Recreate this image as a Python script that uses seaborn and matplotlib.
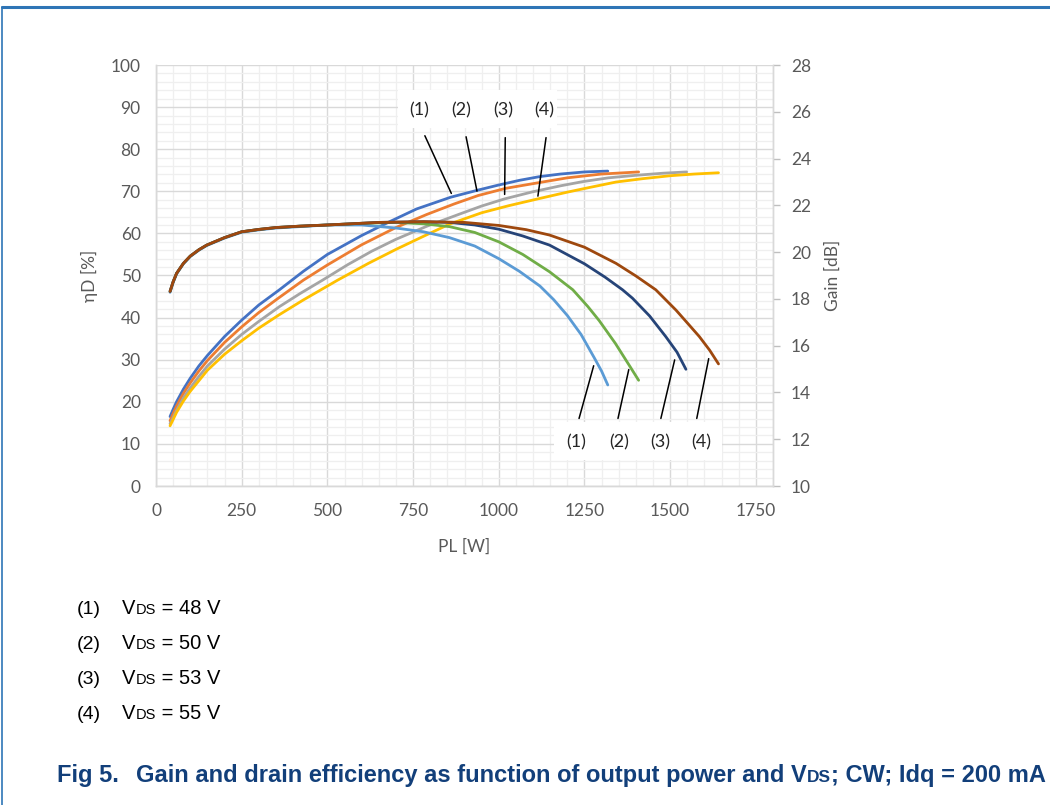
import numpy as np
import pandas as pd
import matplotlib
matplotlib.use("Agg")
import matplotlib.pyplot as plt
import seaborn as sns
from matplotlib.lines import Line2D
from matplotlib.patches import Rectangle
from matplotlib.ticker import MultipleLocator

# drain efficiency curves: PL [W] -> eta_D [%]
eff_pl_1 = [41, 50, 60, 80, 100, 125, 150, 200, 250, 300, 360, 430, 500, 600, 682, 760, 860, 940, 1000,
            1060, 1120, 1180, 1250, 1318]
eff_val_1 = [16.5, 18.2, 20.0, 23.0, 25.6, 28.5, 31.0, 35.5, 39.4, 43.0, 46.6, 51.0, 55.0, 59.5, 62.8, 65.8,
             68.6, 70.3, 71.5, 72.6, 73.5, 74.1, 74.6, 74.8]
eff_pl_2 = [41, 50, 60, 80, 100, 125, 150, 200, 250, 300, 360, 430, 500, 600, 700, 790, 870, 940, 1020,
            1120, 1200, 1300, 1408]
eff_val_2 = [15.5, 17.2, 19.0, 22.0, 24.5, 27.3, 29.8, 34.1, 37.8, 41.2, 44.8, 48.9, 52.5, 57.3, 61.4, 64.5,
             67.0, 69.0, 70.7, 72.1, 73.2, 74.1, 74.6]
eff_pl_3 = [41, 50, 60, 80, 100, 125, 150, 200, 250, 300, 360, 420, 486, 560, 630, 700, 790, 886, 950,
            1017, 1100, 1180, 1245, 1320, 1400, 1480, 1548]
eff_val_3 = [14.8, 16.3, 18.0, 20.9, 23.3, 26.0, 28.5, 32.5, 36.0, 39.1, 42.6, 45.7, 48.9, 52.6, 55.8, 58.6,
             61.7, 64.6, 66.5, 68.2, 69.9, 71.3, 72.3, 73.2, 73.8, 74.3, 74.6]
eff_pl_4 = [41, 50, 60, 80, 100, 125, 150, 200, 250, 300, 360, 430, 530, 620, 700, 780, 856, 950, 1030,
            1114, 1200, 1270, 1342, 1420, 1500, 1570, 1641]
eff_val_4 = [14.3, 15.8, 17.5, 20.2, 22.5, 25.0, 27.5, 31.3, 34.5, 37.5, 40.7, 44.2, 48.9, 52.9, 56.2, 59.3,
             62.2, 64.9, 66.6, 68.2, 69.8, 71.0, 72.2, 73.0, 73.7, 74.1, 74.4]

# gain curves: PL [W] -> Gain [dB]
gain_pl_1 = [41, 50, 60, 80, 100, 125, 148, 200, 250, 300, 350, 420, 500, 600, 700, 780, 856, 930, 1000,
             1060, 1120, 1160, 1200, 1240, 1279, 1300, 1318]
gain_val_1 = [18.28, 18.70, 19.07, 19.50, 19.81, 20.08, 20.28, 20.60, 20.85, 20.95, 21.03, 21.09, 21.16,
              21.16, 21.03, 20.87, 20.62, 20.26, 19.72, 19.18, 18.55, 17.97, 17.29, 16.48, 15.47, 14.91, 14.32]
gain_pl_2 = [41, 50, 60, 80, 100, 125, 148, 200, 250, 300, 350, 420, 500, 600, 700, 780, 856, 930, 1000,
             1070, 1148, 1216, 1260, 1293, 1340, 1381, 1408]
gain_val_2 = [18.32, 18.73, 19.09, 19.52, 19.83, 20.10, 20.30, 20.62, 20.87, 20.97, 21.05, 21.11, 21.16,
              21.23, 21.27, 21.21, 21.09, 20.84, 20.44, 19.90, 19.16, 18.39, 17.67, 17.07, 16.10, 15.15, 14.52]
gain_pl_3 = [41, 50, 60, 80, 100, 125, 148, 200, 250, 300, 350, 420, 500, 650, 780, 856, 930, 1000, 1070,
             1148, 1250, 1310, 1361, 1390, 1440, 1487, 1520, 1546]
gain_val_3 = [18.32, 18.73, 19.09, 19.52, 19.83, 20.10, 20.30, 20.62, 20.87, 20.97, 21.05, 21.11, 21.16,
              21.27, 21.30, 21.27, 21.16, 20.98, 20.69, 20.30, 19.50, 18.93, 18.39, 18.03, 17.27, 16.39,
              15.72, 14.99]
gain_pl_4 = [41, 50, 60, 80, 100, 125, 148, 200, 250, 300, 350, 420, 500, 650, 780, 900, 1000, 1080, 1148,
             1250, 1342, 1400, 1458, 1517, 1555, 1585, 1615, 1641]
gain_val_4 = [18.32, 18.73, 19.09, 19.52, 19.83, 20.10, 20.30, 20.62, 20.87, 20.97, 21.05, 21.11, 21.16,
              21.27, 21.30, 21.27, 21.14, 20.96, 20.73, 20.21, 19.52, 18.98, 18.39, 17.52, 16.89, 16.39,
              15.81, 15.22]

curve_labels = ["(1)", "(2)", "(3)", "(4)"]
vds_values = ["48", "50", "53", "55"]

eff_colors = ["#4472C4", "#ED7D31", "#A5A5A5", "#FFC000"]
gain_colors = ["#5B9BD5", "#70AD47", "#264478", "#9E480E"]

sns.set_style("white")
plt.rcParams["font.family"] = ["Lato", "DejaVu Sans"]
grey = "#595959"

fig = plt.figure(figsize=(10.5, 8.05), dpi=100)
ax = fig.add_axes([156 / 1050, 1 - 486 / 805, 617 / 1050, 421 / 805])
ax2 = ax.twinx()

eff_sets = [(eff_pl_1, eff_val_1), (eff_pl_2, eff_val_2), (eff_pl_3, eff_val_3), (eff_pl_4, eff_val_4)]
gain_sets = [(gain_pl_1, gain_val_1), (gain_pl_2, gain_val_2), (gain_pl_3, gain_val_3), (gain_pl_4, gain_val_4)]

for (px, py), c in zip(eff_sets, eff_colors):
    sns.lineplot(x=px, y=py, ax=ax, color=c, lw=2.0, sort=False, zorder=3)
for (px, py), c in zip(gain_sets, gain_colors):
    sns.lineplot(x=px, y=py, ax=ax2, color=c, lw=2.0, sort=False, zorder=3)

ax.set_xlim(0, 1800)
ax.set_ylim(0, 100)
ax2.set_ylim(10, 28)
ax.xaxis.set_major_locator(MultipleLocator(250))
ax.xaxis.set_minor_locator(MultipleLocator(50))
ax.yaxis.set_major_locator(MultipleLocator(10))
ax.yaxis.set_minor_locator(MultipleLocator(2))
ax2.yaxis.set_major_locator(MultipleLocator(2))
ax.set_xticks([0, 250, 500, 750, 1000, 1250, 1500, 1750])

ax.grid(which="major", color="#D9D9D9", lw=1.0)
ax.grid(which="minor", color="#EFEFEF", lw=0.9)
ax.set_axisbelow(True)

for a in (ax, ax2):
    for s in a.spines.values():
        s.set_color("#D9D9D9")
        s.set_linewidth(1.0)
ax.spines["top"].set_visible(False)
ax2.spines["top"].set_visible(False)

ax.tick_params(axis="both", which="both", length=0, labelsize=12.5, labelcolor=grey)
ax.tick_params(axis="y", pad=11)
ax.tick_params(axis="x", pad=12)
ax2.tick_params(axis="y", which="major", length=5, width=1, color="#BFBFBF", labelsize=12.5,
                labelcolor=grey, pad=8)

ax.set_xlabel("PL [W]", fontsize=12.5, color=grey, labelpad=14)
ax.set_ylabel("ηD [%]", fontsize=12.5, color=grey, labelpad=9)
ax2.set_ylabel("Gain [dB]", fontsize=12.5, color=grey, labelpad=10)

# label boxes and leader lines (efficiency axis coordinates)
ax.add_patch(Rectangle((705, 85.0), 466, 9.1, facecolor="white", edgecolor="none", zorder=2))
ax.add_patch(Rectangle((1162, 6.2), 489, 9.0, facecolor="white", edgecolor="none", zorder=2))

top_text_x = [769, 891, 1014, 1133]
top_line = [((781, 83.8), (865, 68.9)), ((903, 83.6), (938, 69.4)),
            ((1019, 83.4), (1017, 68.6)), ((1139, 83.4), (1113, 68.2))]
bot_text_x = [1226, 1352, 1471, 1590]
bot_line = [((1232, 15.4), (1279, 29.2)), ((1346, 15.4), (1381, 28.3)),
            ((1471, 15.4), (1515, 30.6)), ((1576, 15.4), (1614, 30.9))]

for lab, tx, (p0, p1) in zip(curve_labels, top_text_x, top_line):
    ax.text(tx, 89.2, lab, ha="center", va="center", fontsize=13, color="#262626", zorder=4)
    ax.annotate("", xy=p1, xytext=p0, arrowprops=dict(arrowstyle="-", color="black", lw=1.1), zorder=4)
for lab, tx, (p0, p1) in zip(curve_labels, bot_text_x, bot_line):
    ax.text(tx, 10.4, lab, ha="center", va="center", fontsize=13, color="#262626", zorder=4)
    ax.annotate("", xy=p1, xytext=p0, arrowprops=dict(arrowstyle="-", color="black", lw=1.1), zorder=4)

# text runs below the chart
renderer = fig.canvas.get_renderer()


def runs(x, y, parts, color, weight="normal"):
    for s, size in parts:
        t = fig.text(x / 1050, 1 - y / 805, s, fontsize=size, color=color, weight=weight,
                     family="Liberation Sans", va="baseline", ha="left")
        bb = t.get_window_extent(renderer)
        x += bb.width


for i, (lab, v) in enumerate(zip(curve_labels, vds_values)):
    yb = 614 + i * 35
    runs(77, yb, [(lab, 14)], "black")
    runs(122, yb, [("V", 14.5), ("DS", 10.5), (" = " + v + " V", 14.5)], "black")

runs(57, 782, [("Fig 5.", 17)], "#123F7A", "bold")
runs(136, 782, [("Gain and drain efficiency as function of output power and V", 17), ("DS", 12.5),
                ("; CW; Idq = 200 mA", 17)], "#123F7A", "bold")

# document frame
fig.add_artist(Line2D([2 / 1050, 1], [1 - 7 / 805, 1 - 7 / 805], color="#2E75B6", lw=2.2))
fig.add_artist(Line2D([2 / 1050, 2 / 1050], [0, 1 - 7 / 805], color="#2E75B6", lw=1.2))

fig.savefig("out.png", dpi=100)
